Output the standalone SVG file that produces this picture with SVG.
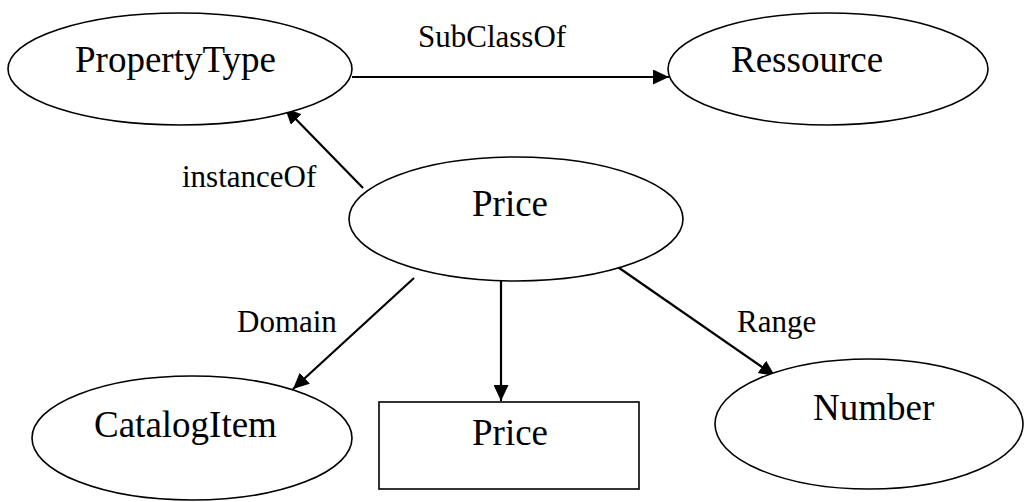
<svg xmlns="http://www.w3.org/2000/svg" width="1024" height="502" viewBox="0 0 1024 502">
  <style>
    .shape { fill: #ffffff; stroke: #000000; stroke-width: 1.6; }
    .name { font-size: 37px; fill: #000000; }
    .label { font-size: 31px; fill: #000000; }
    .edge { stroke: #000000; stroke-width: 2.2; fill: none; marker-end: url(#arrow); }
  </style>
  <defs>
    <marker id="arrow" markerUnits="userSpaceOnUse" markerWidth="16" markerHeight="15" refX="16" refY="7.5" orient="auto">
      <path d="M0,0 L16,7.5 L0,15 z" fill="#000000"/>
    </marker>
  </defs>

  <rect width="1024" height="502" fill="#ffffff"/>

  <g font-family="Liberation Serif, Times New Roman, Times, DejaVu Serif, serif">
    <g id="connectors">
      <line class="edge" x1="352" y1="77" x2="669" y2="77"/>
      <line class="edge" x1="363" y1="188" x2="285" y2="108"/>
      <line class="edge" x1="414" y1="278" x2="293" y2="389"/>
      <line class="edge" x1="501" y1="277" x2="501" y2="401"/>
      <line class="edge" x1="612" y1="263" x2="775" y2="376"/>
      <text class="label" x="418" y="47">SubClassOf</text>
      <text class="label" x="182" y="187">instanceOf</text>
      <text class="label" x="237" y="332">Domain</text>
      <text class="label" x="737" y="332">Range</text>
    </g>

    <g id="node-propertytype">
      <ellipse class="shape" cx="180" cy="69" rx="172" ry="56"/>
      <text class="name" x="75" y="72">PropertyType</text>
    </g>

    <g id="node-ressource">
      <ellipse class="shape" cx="828" cy="69" rx="160" ry="56"/>
      <text class="name" x="731" y="72">Ressource</text>
    </g>

    <g id="node-price">
      <ellipse class="shape" cx="516" cy="219" rx="167" ry="62"/>
      <text class="name" x="472" y="216">Price</text>
    </g>

    <g id="node-catalogitem">
      <ellipse class="shape" cx="192" cy="438" rx="160" ry="62"/>
      <text class="name" x="94" y="437">CatalogItem</text>
    </g>

    <g id="node-price-literal">
      <rect class="shape" x="379" y="402" width="260" height="87"/>
      <text class="name" x="472" y="445">Price</text>
    </g>

    <g id="node-number">
      <ellipse class="shape" cx="869" cy="424" rx="154" ry="65"/>
      <text class="name" x="813" y="420">Number</text>
    </g>
  </g>
</svg>
